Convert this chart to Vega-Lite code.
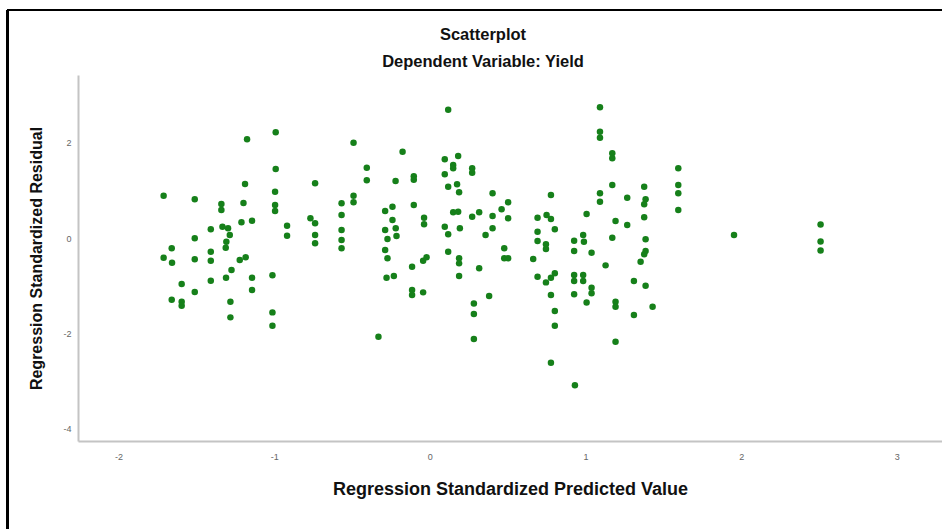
{
  "$schema": "https://vega.github.io/schema/vega-lite/v6.json",
  "width": 864,
  "height": 366,
  "autosize": {"type": "none"},
  "padding": {"left": 78, "top": 75, "right": 0, "bottom": 88},
  "background": "white",
  "config": {
    "view": {"stroke": null},
    "font": "Liberation Sans",
    "axis": {
      "grid": false,
      "ticks": false,
      "domainColor": "#c4c4c4",
      "domainWidth": 2,
      "labelColor": "#666666",
      "labelFontSize": 9,
      "labelFont": "Liberation Sans",
      "titleFont": "Liberation Sans",
      "titleFontWeight": "bold",
      "titleColor": "#111111"
    }
  },
  "title": {
    "text": "Scatterplot",
    "subtitle": "Dependent Variable: Yield",
    "anchor": "middle",
    "frame": "group",
    "dx": -27,
    "fontSize": 16.5,
    "fontWeight": "bold",
    "color": "#111111",
    "subtitleFontSize": 16.5,
    "subtitleFontWeight": "bold",
    "subtitleColor": "#111111",
    "subtitlePadding": 10,
    "offset": -61,
    "font": "Liberation Sans",
    "subtitleFont": "Liberation Sans"
  },
  "data": {
    "values": [
      {"pred": -1.710, "resid": 0.891}, {"pred": -1.510, "resid": 0.815}, {"pred": -1.174, "resid": 2.078}, {"pred": -0.990, "resid": 2.225},
      {"pred": -0.990, "resid": 1.453}, {"pred": -1.187, "resid": 1.137}, {"pred": -1.197, "resid": 0.737}, {"pred": -0.994, "resid": 0.975},
      {"pred": -0.994, "resid": 0.695}, {"pred": -0.994, "resid": 0.568}, {"pred": -1.339, "resid": 0.716}, {"pred": -1.339, "resid": 0.589},
      {"pred": -1.210, "resid": 0.331}, {"pred": -1.142, "resid": 0.364}, {"pred": -0.917, "resid": 0.259}, {"pred": -0.917, "resid": 0.048},
      {"pred": -1.407, "resid": 0.183}, {"pred": -1.332, "resid": 0.238}, {"pred": -1.296, "resid": 0.204}, {"pred": -1.285, "resid": 0.063},
      {"pred": -1.307, "resid": -0.078}, {"pred": -1.311, "resid": -0.204}, {"pred": -1.510, "resid": -0.006}, {"pred": -1.658, "resid": -0.217},
      {"pred": -1.710, "resid": -0.415}, {"pred": -1.656, "resid": -0.520}, {"pred": -1.510, "resid": -0.448}, {"pred": -1.407, "resid": -0.288},
      {"pred": -1.407, "resid": -0.478}, {"pred": -1.221, "resid": -0.463}, {"pred": -1.183, "resid": -0.406}, {"pred": -1.274, "resid": -0.674},
      {"pred": -1.309, "resid": -0.836}, {"pred": -1.142, "resid": -0.836}, {"pred": -1.142, "resid": -1.095}, {"pred": -1.011, "resid": -0.785},
      {"pred": -1.407, "resid": -0.899}, {"pred": -1.594, "resid": -0.968}, {"pred": -1.510, "resid": -1.137}, {"pred": -1.658, "resid": -1.299},
      {"pred": -1.594, "resid": -1.341}, {"pred": -1.594, "resid": -1.425}, {"pred": -1.281, "resid": -1.341}, {"pred": -1.281, "resid": -1.669},
      {"pred": -1.011, "resid": -1.564}, {"pred": -1.011, "resid": -1.846},
      {"pred": -0.490, "resid": 2.006}, {"pred": -0.737, "resid": 1.152}, {"pred": -0.405, "resid": 1.480}, {"pred": -0.405, "resid": 1.215},
      {"pred": -0.175, "resid": 1.817}, {"pred": -0.220, "resid": 1.200}, {"pred": -0.103, "resid": 1.299}, {"pred": -0.103, "resid": 1.227},
      {"pred": -0.103, "resid": 0.695}, {"pred": 0.096, "resid": 1.657}, {"pred": 0.096, "resid": 1.341}, {"pred": 0.118, "resid": 2.701},
      {"pred": 0.118, "resid": 1.080}, {"pred": -0.490, "resid": 0.891}, {"pred": -0.490, "resid": 0.752}, {"pred": -0.567, "resid": 0.731},
      {"pred": -0.567, "resid": 0.484}, {"pred": -0.567, "resid": 0.168}, {"pred": -0.567, "resid": -0.042}, {"pred": -0.567, "resid": -0.217},
      {"pred": -0.767, "resid": 0.415}, {"pred": -0.737, "resid": 0.309}, {"pred": -0.737, "resid": 0.063}, {"pred": -0.737, "resid": -0.112},
      {"pred": -0.287, "resid": 0.568}, {"pred": -0.240, "resid": 0.659}, {"pred": -0.240, "resid": 0.379}, {"pred": -0.287, "resid": 0.168},
      {"pred": -0.219, "resid": 0.204}, {"pred": -0.272, "resid": -0.021}, {"pred": -0.214, "resid": 0.042}, {"pred": -0.287, "resid": -0.253},
      {"pred": -0.272, "resid": -0.427}, {"pred": -0.037, "resid": 0.427}, {"pred": -0.037, "resid": 0.288}, {"pred": 0.096, "resid": 0.238},
      {"pred": 0.118, "resid": 0.078}, {"pred": 0.118, "resid": -0.288}, {"pred": -0.278, "resid": -0.836}, {"pred": -0.231, "resid": -0.800},
      {"pred": -0.114, "resid": -0.604}, {"pred": -0.043, "resid": -0.478}, {"pred": -0.021, "resid": -0.406}, {"pred": -0.114, "resid": -1.095},
      {"pred": -0.114, "resid": -1.200}, {"pred": -0.043, "resid": -1.143}, {"pred": -0.330, "resid": -2.078},
      {"pred": 0.182, "resid": 1.726}, {"pred": 0.150, "resid": 1.537}, {"pred": 0.150, "resid": 1.467}, {"pred": 0.272, "resid": 1.467},
      {"pred": 0.272, "resid": 1.375}, {"pred": 0.175, "resid": 1.131}, {"pred": 0.188, "resid": 0.962}, {"pred": 0.403, "resid": 0.941},
      {"pred": 0.150, "resid": 0.541}, {"pred": 0.182, "resid": 0.554}, {"pred": 0.272, "resid": 0.448}, {"pred": 0.317, "resid": 0.541},
      {"pred": 0.403, "resid": 0.463}, {"pred": 0.461, "resid": 0.604}, {"pred": 0.503, "resid": 0.752}, {"pred": 0.503, "resid": 0.415},
      {"pred": 0.193, "resid": 0.204}, {"pred": 0.358, "resid": 0.063}, {"pred": 0.403, "resid": 0.204}, {"pred": 0.188, "resid": -0.427},
      {"pred": 0.188, "resid": -0.533}, {"pred": 0.188, "resid": -0.800}, {"pred": 0.317, "resid": -0.638}, {"pred": 0.478, "resid": -0.217},
      {"pred": 0.478, "resid": -0.427}, {"pred": 0.503, "resid": -0.427}, {"pred": 0.381, "resid": -1.221}, {"pred": 0.283, "resid": -1.375},
      {"pred": 0.283, "resid": -1.600}, {"pred": 0.283, "resid": -2.126}, {"pred": 0.778, "resid": 0.905}, {"pred": 0.692, "resid": 0.427},
      {"pred": 0.750, "resid": 0.484}, {"pred": 0.778, "resid": 0.400}, {"pred": 0.803, "resid": 0.183}, {"pred": 0.692, "resid": 0.133},
      {"pred": 0.692, "resid": -0.063}, {"pred": 0.746, "resid": -0.133}, {"pred": 0.746, "resid": -0.232}, {"pred": 0.664, "resid": -0.442},
      {"pred": 0.692, "resid": -0.815}, {"pred": 0.746, "resid": -0.933}, {"pred": 0.778, "resid": -0.836}, {"pred": 0.803, "resid": -0.743},
      {"pred": 0.778, "resid": -1.200}, {"pred": 0.803, "resid": -1.537}, {"pred": 0.803, "resid": -1.846}, {"pred": 0.778, "resid": -2.625},
      {"pred": 0.932, "resid": -3.095}, {"pred": 1.007, "resid": 0.505}, {"pred": 0.927, "resid": -0.057}, {"pred": 0.985, "resid": 0.063},
      {"pred": 0.990, "resid": -0.078}, {"pred": 0.927, "resid": -0.274}, {"pred": 1.039, "resid": -0.309}, {"pred": 0.927, "resid": -0.779},
      {"pred": 0.927, "resid": -0.905}, {"pred": 0.985, "resid": -0.779}, {"pred": 0.985, "resid": -0.905}, {"pred": 1.039, "resid": -1.046},
      {"pred": 1.039, "resid": -1.164}, {"pred": 0.927, "resid": -1.185}, {"pred": 1.007, "resid": -1.354}, {"pred": 1.093, "resid": 2.752},
      {"pred": 1.093, "resid": 2.238}, {"pred": 1.093, "resid": 2.112}, {"pred": 1.093, "resid": 0.941}, {"pred": 1.093, "resid": 0.764},
      {"pred": 1.172, "resid": 1.783}, {"pred": 1.172, "resid": 1.678}, {"pred": 1.172, "resid": 1.116}, {"pred": 1.268, "resid": 0.848},
      {"pred": 1.377, "resid": 1.080}, {"pred": 1.386, "resid": 0.815}, {"pred": 1.377, "resid": 0.709}, {"pred": 1.377, "resid": 0.436},
      {"pred": 1.193, "resid": 0.358}, {"pred": 1.268, "resid": 0.274}, {"pred": 1.172, "resid": 0.006}, {"pred": 1.386, "resid": -0.027},
      {"pred": 1.386, "resid": -0.274}, {"pred": 1.377, "resid": -0.343}, {"pred": 1.354, "resid": -0.499}, {"pred": 1.129, "resid": -0.575},
      {"pred": 1.311, "resid": -0.905}, {"pred": 1.386, "resid": -1.004}, {"pred": 1.193, "resid": -1.341}, {"pred": 1.193, "resid": -1.446},
      {"pred": 1.431, "resid": -1.446}, {"pred": 1.311, "resid": -1.621}, {"pred": 1.193, "resid": -2.183}, {"pred": 1.596, "resid": 1.467},
      {"pred": 1.596, "resid": 1.116}, {"pred": 1.596, "resid": 0.941}, {"pred": 1.596, "resid": 0.589}, {"pred": 1.954, "resid": 0.063},
      {"pred": 2.510, "resid": 0.284}, {"pred": 2.510, "resid": -0.074}, {"pred": 2.510, "resid": -0.263}
    ]
  },
  "layer": [
    {
      "mark": {"type": "rule", "color": "#000000", "strokeWidth": 1.5, "clip": false},
      "encoding": {
        "x": {"datum": -2.712, "type": "quantitative"},
        "y": {"datum": 4.8, "type": "quantitative"},
        "x2": {"datum": 4.0},
        "y2": {"datum": 4.8}
      }
    },
    {
      "mark": {"type": "rule", "color": "#000000", "strokeWidth": 1.5, "clip": false},
      "encoding": {
        "x": {"datum": -2.712, "type": "quantitative"},
        "y": {"datum": 4.8, "type": "quantitative"},
        "x2": {"datum": -2.712},
        "y2": {"datum": -6.5}
      }
    },
    {
      "mark": {"type": "circle", "size": 42, "color": "#16801a", "opacity": 1},
      "encoding": {
        "x": {
          "field": "pred",
          "type": "quantitative",
          "scale": {"domain": [-2.26, 3.29], "nice": false, "zero": false},
          "axis": {
            "title": "Regression Standardized Predicted Value",
            "values": [-2, -1, 0, 1, 2, 3],
            "format": "d",
            "labelPadding": 11,
            "titleFontSize": 18,
            "titlePadding": 19,
            "labelExpr": "replace(datum.label, '\u2212', '-')"
          }
        },
        "y": {
          "field": "resid",
          "type": "quantitative",
          "scale": {"domain": [-4.27, 3.43], "nice": false, "zero": false},
          "axis": {
            "title": "Regression Standardized Residual",
            "values": [-4, -2, 0, 2],
            "format": "d",
            "labelPadding": 7,
            "titleFontSize": 16,
            "titlePadding": 18,
            "labelExpr": "replace(datum.label, '\u2212', '-')"
          }
        }
      }
    }
  ]
}
